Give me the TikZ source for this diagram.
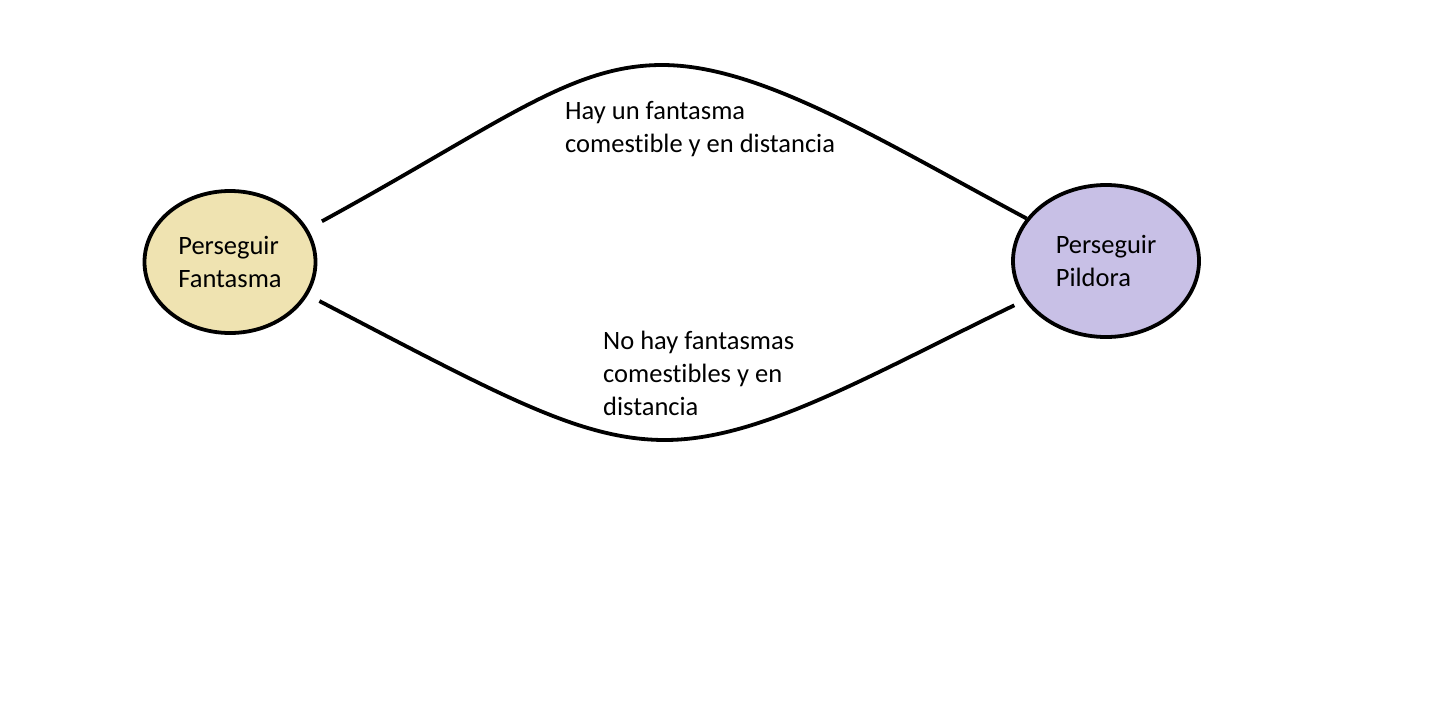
\documentclass[tikz,border=0pt]{standalone}
\usepackage{fontspec}
\setmainfont[Ligatures=CommonOff]{Carlito}
\usetikzlibrary{shapes.geometric}
\definecolor{fantasmafill}{RGB}{239,227,177}
\definecolor{pildorafill}{RGB}{200,192,230}
\begin{document}
\begin{tikzpicture}[x=1pt,y=-1pt,font=\fontsize{26.5}{33}\selectfont]

      \useasboundingbox (0,0) rectangle (1450,702);

      \begin{scope}[every node/.style={ellipse,draw,line width=3.8pt,inner sep=0pt,align=left}]
        \node[fill=fantasmafill,minimum width=171,minimum height=142] (pf) at (230,262) {Perseguir\\Fantasma};
        \node[fill=pildorafill,minimum width=186,minimum height=152] (pp) at (1106,261) {Perseguir\\Pildora};
      \end{scope}

      \coordinate (topmid) at (662,65);
      \coordinate (botmid) at (665,440);

      \begin{scope}[every path/.style={line width=3.8pt}]
        \draw[shorten <=16pt] (pf.23) .. controls (500,124) and (570,65) .. (topmid)
          .. controls (760,65) and (880,140) .. (pp);
        \draw[shorten <=13pt,shorten >=11pt] (pf.-23) .. controls (500,395) and (580,440) .. (botmid)
          .. controls (760,440) and (870,375) .. (pp);
      \end{scope}

      \begin{scope}[every node/.style={align=left,anchor=north west,inner sep=0pt}]
        \node (hay) at (565,101) {Hay un fantasma\\comestible y en distancia};
        \node (nohay) at (603,331) {No hay fantasmas\\comestibles y en\\distancia};
      \end{scope}

    \end{tikzpicture}
\end{document}
